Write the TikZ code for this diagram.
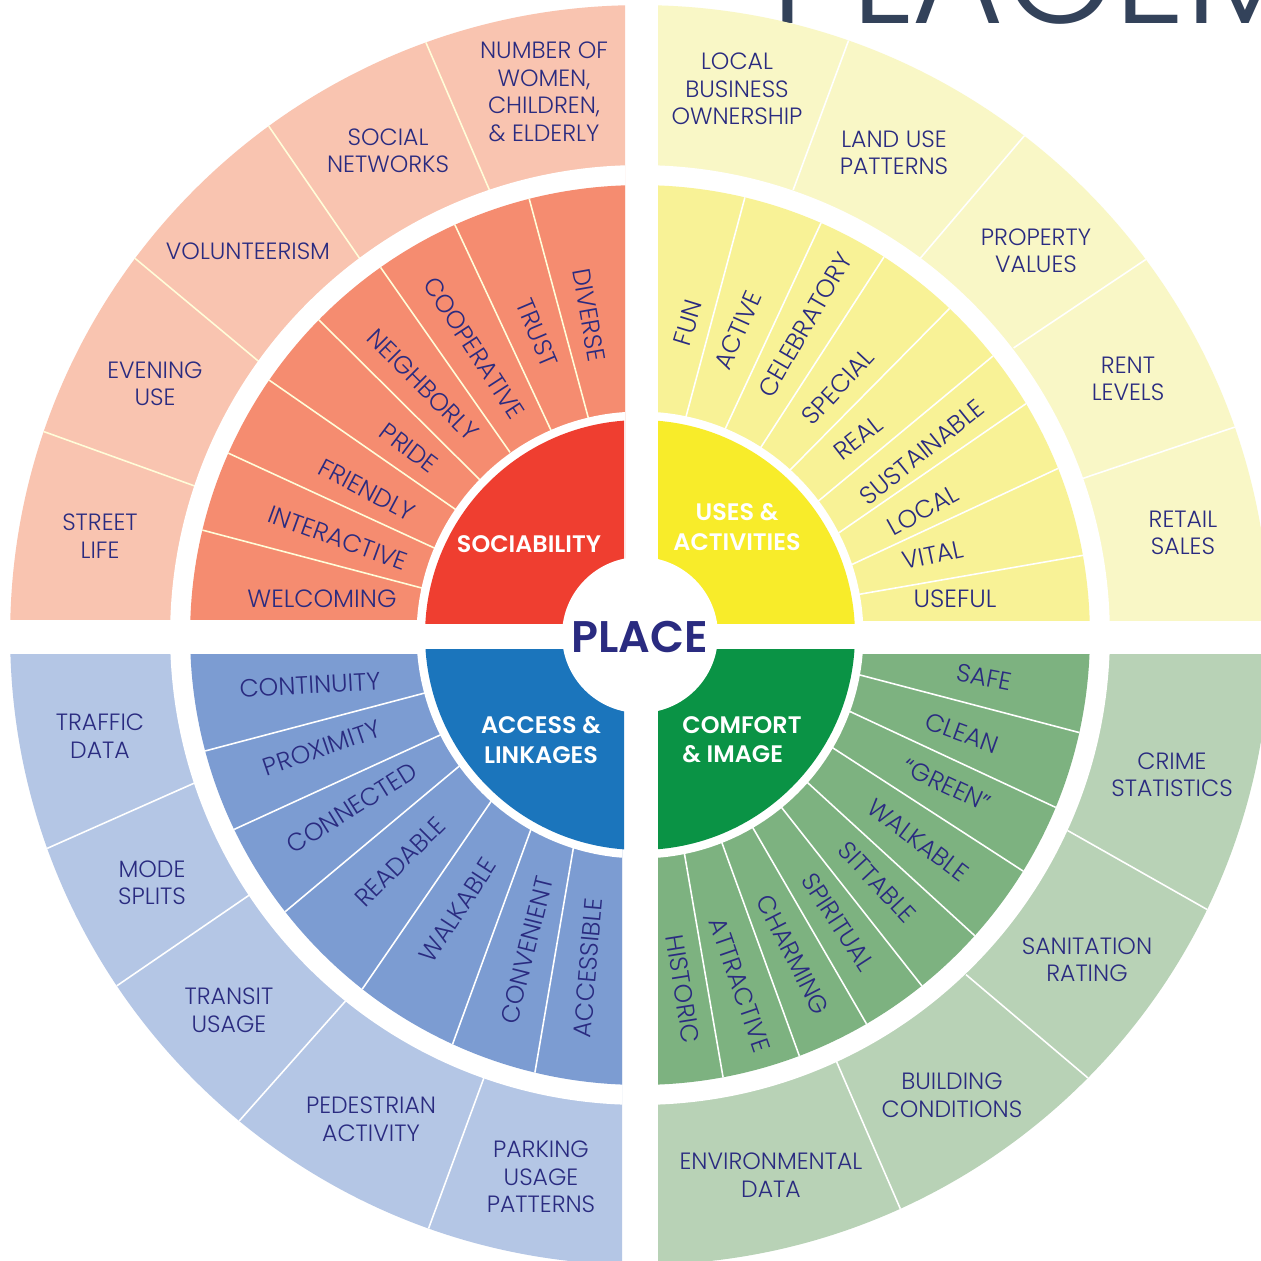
\documentclass[tikz,border=0pt]{standalone}
\usepackage{fontspec}
\setmainfont{Poppins}[UprightFont=* Light,BoldFont=* SemiBold]
\definecolor{ink}{HTML}{2A2B80}
\definecolor{titleink}{HTML}{33425A}
\definecolor{rA}{HTML}{F9C4B0}\definecolor{rB}{HTML}{F58C70}\definecolor{rC}{HTML}{EF3E30}
\definecolor{yA}{HTML}{F9F7C6}\definecolor{yB}{HTML}{F8F296}\definecolor{yC}{HTML}{F8EC2A}
\definecolor{bA}{HTML}{B4C6E5}\definecolor{bB}{HTML}{7C9CD2}\definecolor{bC}{HTML}{1B75BC}
\definecolor{gA}{HTML}{B8D2B6}\definecolor{gB}{HTML}{7DB280}\definecolor{gC}{HTML}{0A9345}
\tikzset{
  o/.style={text=ink,inner sep=0pt,align=center,font=\fontsize{13.4}{15.65}\selectfont},
  m/.style={text=ink,inner sep=0pt,align=center,font=\fontsize{14.2}{15.65}\selectfont},
  c/.style={text=white,inner sep=0pt,align=center,font=\bfseries\fontsize{13.6}{16.6}\selectfont},
  sepl/.style={line width=0.9pt,shorten >=-3pt,shorten <=-3pt}
}
\newcommand\wedges[8]{%
  \begin{scope}
    \clip #1 rectangle #2;
    \fill[#5A] (640,635) circle[radius=12.6cm];
    \begin{scope}
      \clip (640,635) circle[radius=12.6cm];
      \foreach \xa/\ya/\xb/\yb in {#6} \draw[sepl,#8] (\xa,\ya) -- (\xb,\yb);
    \end{scope}
    \fill[white] (640,635) circle[radius=9.4cm];
    \fill[#5B] (640,635) circle[radius=9cm];
    \begin{scope}
      \clip (640,635) circle[radius=9cm];
      \foreach \xa/\ya/\xb/\yb in {#7} \draw[sepl,#8] (\xa,\ya) -- (\xb,\yb);
    \end{scope}
    \fill[white] (640,635) circle[radius=4.47cm];
  \end{scope}
  \begin{scope}
    \clip #3 rectangle #4;
    \fill[#5C] (640,635) circle[radius=4.3cm];
  \end{scope}}
\begin{document}
\begin{tikzpicture}[x=0.02cm,y=-0.02cm]
\useasboundingbox (0,0) rectangle (1261,1261);
\fill[white] (0,0) rectangle (1261,1261);
\begin{scope}
\clip (0,0) rectangle (1261,1261);
\node[text=titleink,inner sep=0pt,anchor=base west,font=\fontsize{81}{81}\selectfont] (title) at (771,24) {PLACEM};
\wedges{(-10,-10)}{(625,619)}{(-10,-10)}{(624,623)}{r}
  {427/45/489/189,270/128/358/256,137/260/257/360,45/432/192/485}
  {529/198/587/413,455/225/549/426,381/268/507/448,319/320/476/476,269/380/452/507,228/453/430/546,202/530/418/587}{white!85!yellow}
\wedges{(658,-10)}{(1270,620)}{(658,-10)}{(1270,623)}{y}
  {848/42/795/185,1025/135/923/255,1145/260/1018/345,1235/427/1087/477}
  {745/197/687/413,821/223/727/425,884/257/763/444,950/308/793/467,993/356/822/498,1027/403/840/532,1059/468/853/564,1085/555/861/594}{white}
\wedges{(-10,654)}{(622,1270)}{(-10,649)}{(624,1270)}{b}
  {48/848/190/785,118/985/245/898,240/1120/342/1005,428/1230/482/1083}
  {205/751/421/694,235/829/438/736,286/911/457/768,363/988/490/803,453/1043/530/832,535/1072/573/850}{white}
\wedges{(658,654)}{(1270,1270)}{(658,649)}{(1270,1270)}{g}
  {1208/910/1072/833,1088/1078/970/978,900/1208/838/1065}
  {1081/733/860/675,1057/808/851/712,1023/871/833/748,974/935/808/783,922/986/782/808,866/1023/753/828,799/1055/722/843,723/1077/685/857}{white}
\fill[white] (640,635) circle[radius=1.56cm];
\end{scope}
% centre
\node[text=ink,inner sep=0pt,font=\bfseries\fontsize{25.2}{27}\selectfont] (place) at (640,637) {PLACE};
\node[c] (coreA) at (529,544) {SOCIABILITY};
\node[c] (coreB) at (737,527) {USES \&\\ACTIVITIES};
\node[c] (coreC) at (541,740) {ACCESS \&\\LINKAGES};
\node[c,align=left] (coreD) at (742,740) {COMFORT\\\& IMAGE};
% sociability outer
\node[o] (a1) at (544,92) {NUMBER OF\\WOMEN,\\CHILDREN,\\\& ELDERLY};
\node[o] (a2) at (388,151) {SOCIAL\\NETWORKS};
\node[o] (a3) at (248,251) {VOLUNTEERISM};
\node[o] (a4) at (155,384) {EVENING\\USE};
\node[o] (a5) at (100,536) {STREET\\LIFE};
% sociability middle
\node[m] (b1) at (322,599) {WELCOMING};
\node[m,rotate=-20] (b2) at (338,538) {INTERACTIVE};
\node[m,rotate=-28] (b3) at (367,490) {FRIENDLY};
\node[m,rotate=-37] (b4) at (409,448) {PRIDE};
\node[m,rotate=-45] (b5) at (423,385) {NEIGHBORLY};
\node[m,rotate=-57] (b6) at (474,348) {COOPERATIVE};
\node[m,rotate=-67] (b7) at (537,333) {TRUST};
\node[m,rotate=-80] (b8) at (589,315) {DIVERSE};
% uses outer
\node[o] (c1) at (737,89) {LOCAL\\BUSINESS\\OWNERSHIP};
\node[o] (c2) at (894,153) {LAND USE\\PATTERNS};
\node[o] (c3) at (1036,251) {PROPERTY\\VALUES};
\node[o] (c4) at (1128,379) {RENT\\LEVELS};
\node[o] (c5) at (1183,533) {RETAIL\\SALES};
% uses middle
\node[m,rotate=73] (d1) at (688,323) {FUN};
\node[m,rotate=66] (d2) at (738,330) {ACTIVE};
\node[m,rotate=60] (d3) at (805,325) {CELEBRATORY};
\node[m,rotate=47] (d4) at (838,387) {SPECIAL};
\node[m,rotate=38] (d5) at (858,438) {REAL};
\node[m,rotate=39] (d6) at (922,452) {SUSTAINABLE};
\node[m,rotate=29] (d7) at (923,510) {LOCAL};
\node[m,rotate=12] (d8) at (933,555) {VITAL};
\node[m] (d9) at (955,599) {USEFUL};
% access outer
\node[o] (e1) at (100,736) {TRAFFIC\\DATA};
\node[o] (e2) at (152,883) {MODE\\SPLITS};
\node[o] (e3) at (229,1010) {TRANSIT\\USAGE};
\node[o] (e4) at (371,1119) {PEDESTRIAN\\ACTIVITY};
\node[o] (e5) at (541,1177) {PARKING\\USAGE\\PATTERNS};
% access middle
\node[m,rotate=3] (f1) at (310,685) {CONTINUITY};
\node[m,rotate=19] (f2) at (322,748) {PROXIMITY};
\node[m,rotate=32] (f3) at (352,808) {CONNECTED};
\node[m,rotate=45] (f4) at (400,862) {READABLE};
\node[m,rotate=57] (f5) at (458,910) {WALKABLE};
\node[m,rotate=76] (f6) at (527,950) {CONVENIENT};
\node[m,rotate=85] (f7) at (588,968) {ACCESSIBLE};
% comfort outer
\node[o] (g1) at (1172,775) {CRIME\\STATISTICS};
\node[o] (g2) at (1087,960) {SANITATION\\RATING};
\node[o] (g3) at (952,1095) {BUILDING\\CONDITIONS};
\node[o] (g4) at (771,1175) {ENVIRONMENTAL\\DATA};
% comfort middle
\node[m,rotate=-11] (h1) at (984,677) {SAFE};
\node[m,rotate=-20] (h2) at (962,733) {CLEAN};
\node[m,rotate=-25] (h3) at (947,785) {“GREEN”};
\node[m,rotate=-37] (h4) at (918,840) {WALKABLE};
\node[m,rotate=-47] (h5) at (877,882) {SITTABLE};
\node[m,rotate=-57] (h6) at (838,922) {SPIRITUAL};
\node[m,rotate=-63] (h7) at (793,955) {CHARMING};
\node[m,rotate=-71] (h8) at (740,985) {ATTRACTIVE};
\node[m,rotate=-81] (h9) at (683,989) {HISTORIC};
\end{tikzpicture}
\end{document}
